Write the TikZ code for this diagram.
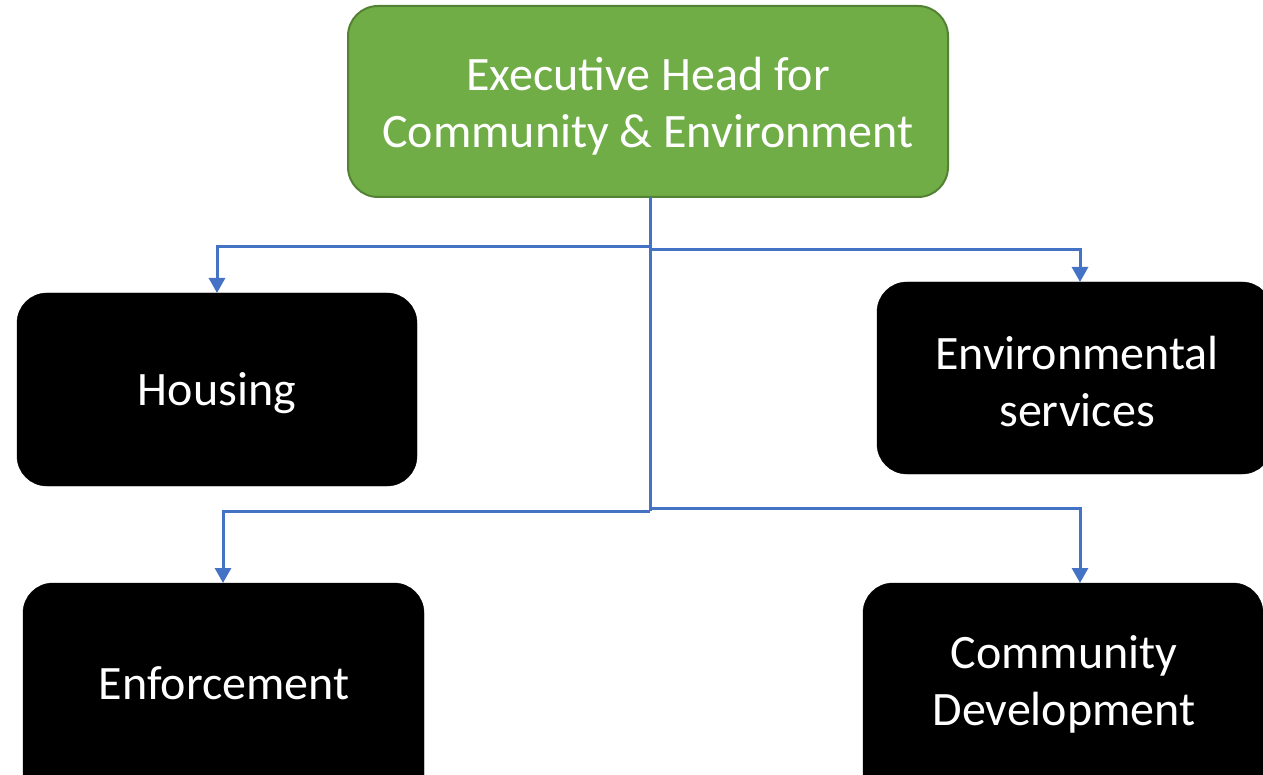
\documentclass[tikz,border=0pt]{standalone}
\usepackage{fontspec}
\setmainfont{Carlito}
\usetikzlibrary{arrows.meta}
\definecolor{hdgreen}{HTML}{70AD47}
\definecolor{hdgreenedge}{HTML}{548235}
\definecolor{conblue}{HTML}{4472C4}
\tikzset{
  headbox/.style={draw=hdgreenedge, line width=2pt, fill=hdgreen, rounded corners=30pt, text=white},
  unitbox/.style={draw=black, fill=black, rounded corners=30pt, text=white},
  conn/.style={draw=conblue, line width=3pt, -{Triangle[length=15pt,width=16pt]}},
  lbl/.style={text=white, align=center, font=\fontsize{48pt}{57pt}\selectfont},
}
\begin{document}
\begin{tikzpicture}[x=1pt,y=-1pt]
\useasboundingbox (0,0) rectangle (1263,775);
% boxes
\draw[headbox] (348,6) rectangle (948,197);
\node[lbl] (head) at (648,106) {Executive Head for\\Community \& Environment};
\draw[unitbox] (17,293) rectangle (417,486);
\node[lbl] (housing) at (217,393) {Housing};
\draw[unitbox] (877,282) rectangle (1272,474);
\node[lbl] (env) at (1077,382) {Environmental\\services};
\draw[unitbox] (23,583) rectangle (424,810);
\node[lbl] (enf) at (224,683) {Enforcement};
\draw[unitbox] (863,583) rectangle (1263,810);
\node[lbl] (comm) at (1064,684) {Community\\Development};
% coordinates
\coordinate (top) at (650,197);
\coordinate (j1) at (650,247);
\coordinate (j2) at (650,250);
\coordinate (j3) at (650,511);
\coordinate (j4) at (650,508);
\coordinate (th) at (217,293);
\coordinate (te) at (1080,282);
\coordinate (tf) at (223,583);
\coordinate (tc) at (1080,583);
% connectors
\draw[draw=conblue, line width=3pt] (top) -- (j3);
\draw[conn] (j1) -| (th);
\draw[conn] (j2) -| (te);
\draw[conn] (j3) -| (tf);
\draw[conn] (j4) -| (tc);
\end{tikzpicture}
\end{document}
